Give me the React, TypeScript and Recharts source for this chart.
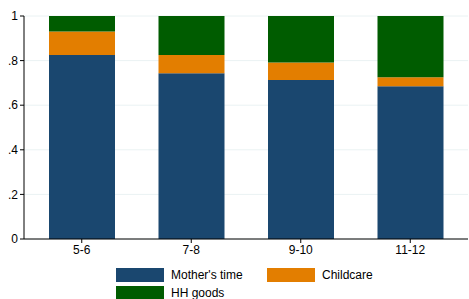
import React from 'react';
import { BarChart, Bar, XAxis, YAxis, CartesianGrid } from 'recharts';

const ageGroups = ['5-6', '7-8', '9-10', '11-12'];
const mothersTime = [0.825, 0.743, 0.713, 0.685];
const childcare = [0.105, 0.082, 0.079, 0.04];
const hhGoods = [0.07, 0.175, 0.208, 0.275];
const yTicks = [0, 0.2, 0.4, 0.6, 0.8, 1];

const SERIES = [
    { key: 'mother', name: "Mother's time", color: '#1a476f' },
    { key: 'childcare', name: 'Childcare', color: '#e37e00' },
    { key: 'hh', name: 'HH goods', color: '#005c00' },
];

const data = ageGroups.map((g, i) => ({
    group: g,
    mother: mothersTime[i],
    childcare: childcare[i],
    hh: hhGoods[i],
}));

const FONT = '"Liberation Sans", Arial, sans-serif';

// stata-ish legend: two columns, wraps to second row
const StataLegend = () => (
    <div style={{ position: 'absolute', left: 0, top: 266, width: 469, height: 33, fontFamily: FONT, fontSize: 12, color: '#000' }}>
        {SERIES.map((s, i) => {
            const col = i % 2;
            const row = Math.floor(i / 2);
            return (
                <div
                    key={s.key}
                    style={{
                        position: 'absolute',
                        left: col === 0 ? 116 : 267,
                        top: 2 + row * 18,
                        display: 'flex',
                        alignItems: 'center',
                    }}
                >
                    <div style={{ width: 48, height: 14, background: s.color }} />
                    <span style={{ marginLeft: 7, lineHeight: '14px' }}>{s.name}</span>
                </div>
            );
        })}
    </div>
);

const fmt = (v: number) => (v === 0 ? '0' : v === 1 ? '1' : String(v).replace(/^0/, ''));

export default function App() {
    return (
        <div style={{ position: 'absolute', left: 0, top: 0, width: 469, height: 299, background: '#fff', overflow: 'hidden' }}>
            <BarChart
                width={469}
                height={299}
                data={data}
                margin={{ top: 16, right: 1, left: 0, bottom: 30 }}
            >
                <CartesianGrid vertical={false} stroke="#eaf2f3" strokeWidth={1} />
                <XAxis
                    dataKey="group"
                    height={30}
                    padding={{ left: 3, right: 3 }}
                    axisLine={{ stroke: '#000' }}
                    tickLine={{ stroke: '#000' }}
                    tickSize={4}
                    tick={{ fill: '#000', fontSize: 12, fontFamily: FONT }}
                    interval={0}
                />
                <YAxis
                    width={24}
                    domain={[0, 1]}
                    ticks={yTicks}
                    tickFormatter={fmt}
                    axisLine={{ stroke: '#000' }}
                    tickLine={{ stroke: '#000' }}
                    tickSize={4}
                    tick={{ fill: '#000', fontSize: 12, fontFamily: FONT }}
                />
                {SERIES.map(s => (
                    <Bar
                        key={s.key}
                        dataKey={s.key}
                        name={s.name}
                        stackId="a"
                        fill={s.color}
                        barSize={66}
                        isAnimationActive={false}
                    />
                ))}
            </BarChart>
            <StataLegend />
        </div>
    );
}
